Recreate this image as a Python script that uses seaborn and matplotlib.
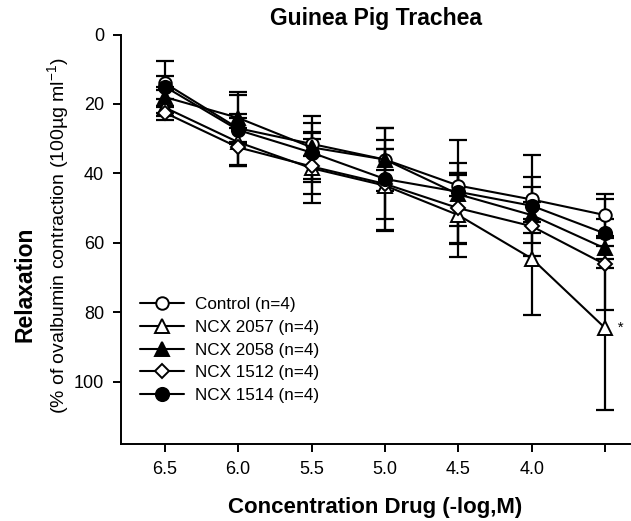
import matplotlib
matplotlib.use("Agg")
import matplotlib.pyplot as plt
import seaborn as sns
import numpy as np
import pandas as pd

# ---- data ----
conc = [6.5, 6.0, 5.5, 5.0, 4.5, 4.0, 3.5]
tick_labels = ["6.5", "6.0", "5.5", "5.0", "4.5", "4.0", ""]
series_names = ["Control (n=4)", "NCX 2057 (n=4)", "NCX 2058 (n=4)", "NCX 1512 (n=4)", "NCX 1514 (n=4)"]
control = [14, 27, 31.5, 36, 43.5, 47.5, 52]
ncx2057 = [21, 31, 38.5, 43.5, 52, 64.5, 84.5]
ncx2058 = [18, 24, 32.5, 36, 46, 52, 61.6]
ncx1512 = [22.5, 32.5, 38, 43, 50, 55.2, 66.2]
ncx1514 = [15, 27.5, 34, 41.6, 45.3, 49.3, 57.3]
control_err = [2, 4, 3.5, 3, 3, 6.5, 6]
ncx2057_err = [2.5, 7, 10, 13, 12, 16.3, 23.7]
ncx2058_err = [3, 7.5, 9, 9, 9, 8, 3]
ncx1512_err = [2, 5.5, 8, 10, 10, 2, 13]
ncx1514_err = [7.5, 10, 8.5, 14.6, 15, 14.6, 10]

values = [control, ncx2057, ncx2058, ncx1512, ncx1514]
errors = [control_err, ncx2057_err, ncx2058_err, ncx1512_err, ncx1514_err]
markers = ["o", "^", "^", "D", "o"]
filled = [False, False, True, False, True]
msizes = [9, 9.5, 9.5, 7.5, 9.5]

sns.set_style("ticks")
plt.rcParams["font.family"] = ["Liberation Sans", "DejaVu Sans"]
plt.rcParams["text.color"] = "black"
plt.rcParams["mathtext.fontset"] = "custom"
plt.rcParams["mathtext.rm"] = "Liberation Sans"
plt.rcParams["mathtext.it"] = "Liberation Sans:italic"
plt.rcParams["mathtext.bf"] = "Liberation Sans:bold"

fig = plt.figure(figsize=(6.31, 5.21), dpi=100)
ax = fig.add_axes([120.7 / 631, 1 - 444.3 / 521, (630 - 120.7) / 631, (444.3 - 34.5) / 521])

df = pd.DataFrame({
    "conc": np.tile(conc, len(series_names)),
    "value": np.concatenate(values),
    "series": np.repeat(series_names, len(conc)),
})

for i, name in enumerate(series_names):
    sub = df[df["series"] == name]
    ax.errorbar(sub["conc"], sub["value"], yerr=errors[i], fmt="none",
                ecolor="black", elinewidth=1.6, capsize=6.5, capthick=1.6, zorder=2)
    sns.lineplot(data=sub, x="conc", y="value", ax=ax, color="black",
                 marker=markers[i], markersize=msizes[i],
                 markerfacecolor=("black" if filled[i] else "white"),
                 markeredgecolor="black", markeredgewidth=1.4,
                 linewidth=1.5, label=name, zorder=3, sort=False)

ax.text(3.5, 84.5, "   *", ha="left", va="center", fontsize=11, color="black")

ax.set_xlim(6.8, 3.33)
ax.set_ylim(118, 0)
ax.set_xticks(conc)
ax.set_xticklabels(tick_labels)
ax.set_yticks([0, 20, 40, 60, 80, 100])
ax.set_xlabel("")
ax.set_ylabel("")
ax.tick_params(axis="both", labelsize=13, length=6, width=1.4, pad=6, direction="out",
               colors="black", labelcolor="black")
for s in ["top", "right"]:
    ax.spines[s].set_visible(False)
for s in ["left", "bottom"]:
    ax.spines[s].set_linewidth(1.4)
    ax.spines[s].set_color("black")

leg = ax.legend(loc="center left", bbox_to_anchor=(140 / 631, 1 - 350 / 521),
                bbox_transform=fig.transFigure, frameon=False, fontsize=12.3,
                handlelength=2.6, handletextpad=0.6, labelspacing=0.45,
                borderpad=0, borderaxespad=0)
for t in leg.get_texts():
    t.set_color("black")

fig.text(376 / 631, 1 - 19 / 521, "Guinea Pig Trachea", ha="center", va="center",
         fontsize=16.5, fontweight="bold")
fig.text(375 / 631, 1 - 507 / 521, "Concentration Drug (-log,M)", ha="center", va="center",
         fontsize=16, fontweight="bold")
fig.text(25 / 631, 1 - 284 / 521, "Relaxation", ha="center", va="center", rotation=90,
         fontsize=16.5, fontweight="bold")
fig.text(58 / 631, 1 - 236 / 521, "(% of ovalbumin contraction (100µg ml$^{-1}$)",
         ha="center", va="center", rotation=90, fontsize=14)

fig.savefig("out.png", dpi=100)
